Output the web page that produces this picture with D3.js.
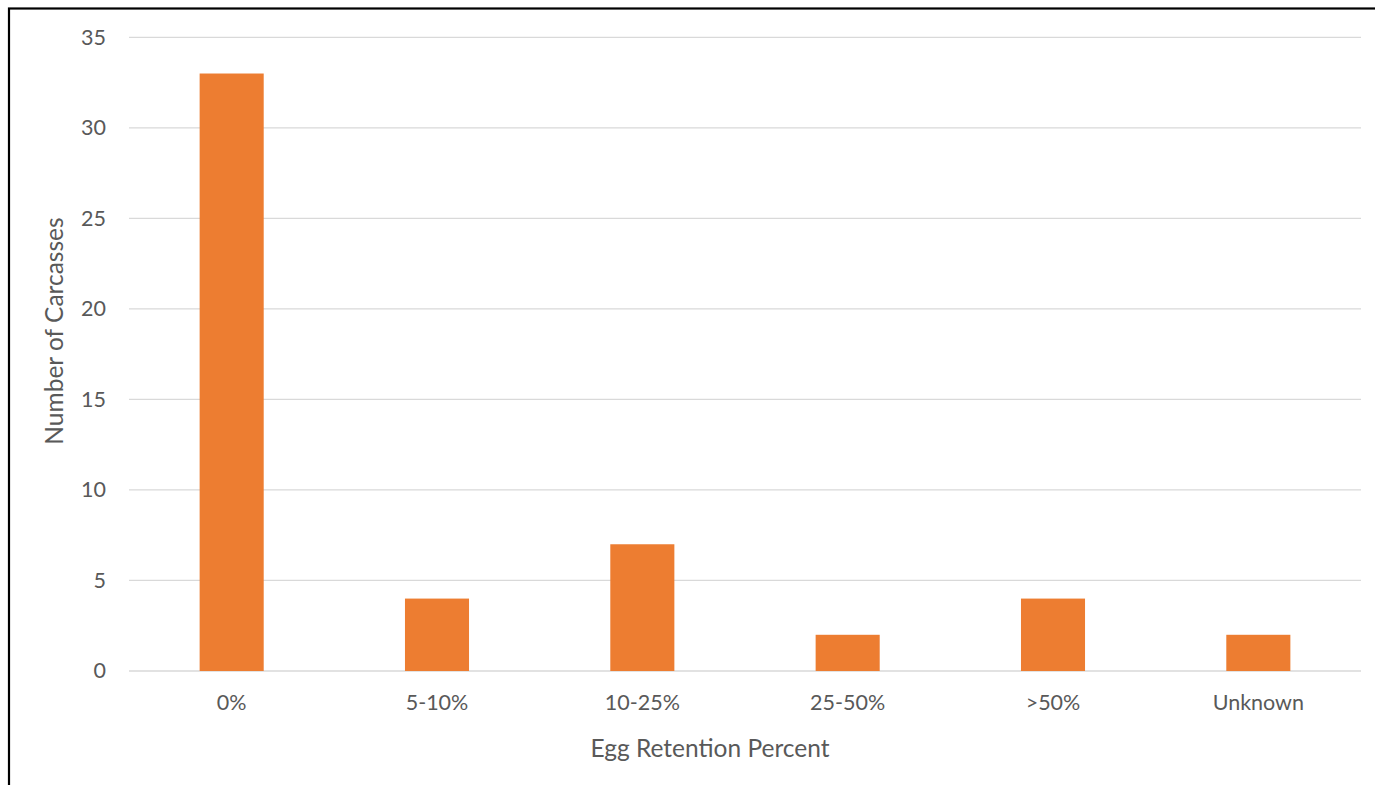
<!DOCTYPE html>
<html>
<head>
<meta charset="utf-8">
<script src="https://cdn.jsdelivr.net/npm/d3@7"></script>
<style>
  html, body { margin: 0; padding: 0; background: #fff; }
  svg { display: block; }
  text { font-family: Lato, "Open Sans", sans-serif; fill: #595959; }
</style>
</head>
<body>
<svg id="chart" width="1375" height="785"></svg>
<script>
// Egg retention categories and carcass counts
const categories = ["0%", "5-10%", "10-25%", "25-50%", ">50%", "Unknown"];
const counts = [33, 4, 7, 2, 4, 2];
const yTicks = [0, 5, 10, 15, 20, 25, 30, 35];

const W = 1375, H = 785;
const plot = { left: 129, right: 1361, top: 37.3, bottom: 671 };
const tickFont = 21.5;
const titleFont = 24.5;

const svg = d3.select("#chart");

// outer frame (extends past the right and bottom edges)
svg.append("rect")
  .attr("x", 9).attr("y", 8.5)
  .attr("width", W + 20).attr("height", H + 20)
  .attr("fill", "none").attr("stroke", "#000").attr("stroke-width", 2.2);

const x = d3.scaleBand()
  .domain(categories)
  .range([plot.left, plot.right])
  .paddingInner(0.688)
  .paddingOuter(0.344);

const y = d3.scaleLinear()
  .domain([0, 35])
  .range([plot.bottom, plot.top]);

// horizontal gridlines
svg.append("g")
  .selectAll("line")
  .data(yTicks)
  .join("line")
  .attr("x1", plot.left).attr("x2", plot.right)
  .attr("y1", d => y(d)).attr("y2", d => y(d))
  .attr("stroke", "#d9d9d9").attr("stroke-width", 1.3);

// y tick labels
const yAxis = d3.axisLeft(y).tickValues(yTicks).tickSize(0).tickPadding(0);
const gy = svg.append("g").attr("transform", `translate(${106},0)`).call(yAxis);
gy.select(".domain").remove();
gy.selectAll("text")
  .attr("font-size", tickFont).attr("fill", "#595959")
  .attr("font-family", "Lato, 'Open Sans', sans-serif");

// bars
svg.append("g")
  .selectAll("rect")
  .data(categories)
  .join("rect")
  .attr("x", d => x(d))
  .attr("width", x.bandwidth())
  .attr("y", (d, i) => y(counts[i]))
  .attr("height", (d, i) => y(0) - y(counts[i]))
  .attr("fill", "#ed7d31");

// x tick labels
const xAxis = d3.axisBottom(x).tickSize(0).tickPadding(0);
const gx = svg.append("g").attr("transform", `translate(0,0)`).call(xAxis);
gx.select(".domain").remove();
gx.selectAll("text")
  .attr("y", 710).attr("dy", null)
  .attr("font-size", tickFont).attr("fill", "#595959")
  .attr("font-family", "Lato, 'Open Sans', sans-serif");

// axis titles
svg.append("text")
  .attr("x", 710).attr("y", 757)
  .attr("text-anchor", "middle")
  .attr("font-size", titleFont)
  .text("Egg Retention Percent");

svg.append("text")
  .attr("transform", `translate(63,331) rotate(-90)`)
  .attr("text-anchor", "middle")
  .attr("font-size", titleFont)
  .text("Number of Carcasses");
</script>
</body>
</html>
